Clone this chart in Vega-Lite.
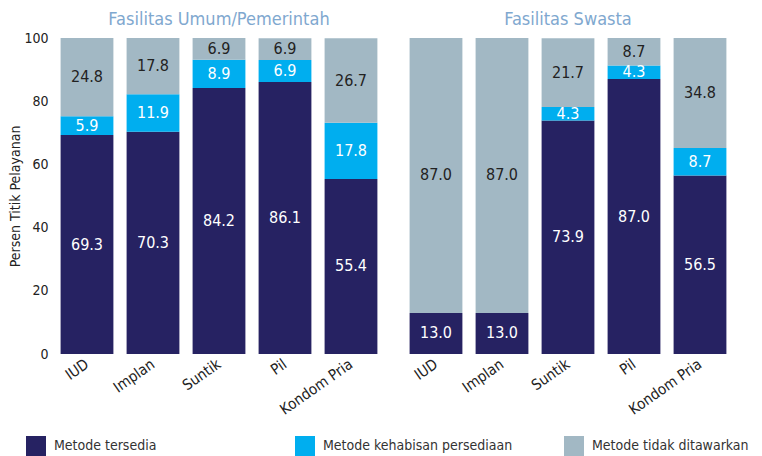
{
  "$schema": "https://vega.github.io/schema/vega-lite/v6.json",
  "background": "white",
  "padding": {"left": 8, "top": 11, "right": 0, "bottom": 0},
  "data": {"values": [
    {"fac": "Fasilitas Umum/Pemerintah", "method": "IUD", "status": "Metode tersedia", "o": 1, "value": 69.3},
    {"fac": "Fasilitas Umum/Pemerintah", "method": "IUD", "status": "Metode kehabisan persediaan", "o": 2, "value": 5.9},
    {"fac": "Fasilitas Umum/Pemerintah", "method": "IUD", "status": "Metode tidak ditawarkan", "o": 3, "value": 24.8},
    {"fac": "Fasilitas Umum/Pemerintah", "method": "Implan", "status": "Metode tersedia", "o": 1, "value": 70.3},
    {"fac": "Fasilitas Umum/Pemerintah", "method": "Implan", "status": "Metode kehabisan persediaan", "o": 2, "value": 11.9},
    {"fac": "Fasilitas Umum/Pemerintah", "method": "Implan", "status": "Metode tidak ditawarkan", "o": 3, "value": 17.8},
    {"fac": "Fasilitas Umum/Pemerintah", "method": "Suntik", "status": "Metode tersedia", "o": 1, "value": 84.2},
    {"fac": "Fasilitas Umum/Pemerintah", "method": "Suntik", "status": "Metode kehabisan persediaan", "o": 2, "value": 8.9},
    {"fac": "Fasilitas Umum/Pemerintah", "method": "Suntik", "status": "Metode tidak ditawarkan", "o": 3, "value": 6.9},
    {"fac": "Fasilitas Umum/Pemerintah", "method": "Pil", "status": "Metode tersedia", "o": 1, "value": 86.1},
    {"fac": "Fasilitas Umum/Pemerintah", "method": "Pil", "status": "Metode kehabisan persediaan", "o": 2, "value": 6.9},
    {"fac": "Fasilitas Umum/Pemerintah", "method": "Pil", "status": "Metode tidak ditawarkan", "o": 3, "value": 6.9},
    {"fac": "Fasilitas Umum/Pemerintah", "method": "Kondom Pria", "status": "Metode tersedia", "o": 1, "value": 55.4},
    {"fac": "Fasilitas Umum/Pemerintah", "method": "Kondom Pria", "status": "Metode kehabisan persediaan", "o": 2, "value": 17.8},
    {"fac": "Fasilitas Umum/Pemerintah", "method": "Kondom Pria", "status": "Metode tidak ditawarkan", "o": 3, "value": 26.7},
    {"fac": "Fasilitas Swasta", "method": "IUD", "status": "Metode tersedia", "o": 1, "value": 13.0},
    {"fac": "Fasilitas Swasta", "method": "IUD", "status": "Metode tidak ditawarkan", "o": 3, "value": 87.0},
    {"fac": "Fasilitas Swasta", "method": "Implan", "status": "Metode tersedia", "o": 1, "value": 13.0},
    {"fac": "Fasilitas Swasta", "method": "Implan", "status": "Metode tidak ditawarkan", "o": 3, "value": 87.0},
    {"fac": "Fasilitas Swasta", "method": "Suntik", "status": "Metode tersedia", "o": 1, "value": 73.9},
    {"fac": "Fasilitas Swasta", "method": "Suntik", "status": "Metode kehabisan persediaan", "o": 2, "value": 4.3},
    {"fac": "Fasilitas Swasta", "method": "Suntik", "status": "Metode tidak ditawarkan", "o": 3, "value": 21.7},
    {"fac": "Fasilitas Swasta", "method": "Pil", "status": "Metode tersedia", "o": 1, "value": 87.0},
    {"fac": "Fasilitas Swasta", "method": "Pil", "status": "Metode kehabisan persediaan", "o": 2, "value": 4.3},
    {"fac": "Fasilitas Swasta", "method": "Pil", "status": "Metode tidak ditawarkan", "o": 3, "value": 8.7},
    {"fac": "Fasilitas Swasta", "method": "Kondom Pria", "status": "Metode tersedia", "o": 1, "value": 56.5},
    {"fac": "Fasilitas Swasta", "method": "Kondom Pria", "status": "Metode kehabisan persediaan", "o": 2, "value": 8.7},
    {"fac": "Fasilitas Swasta", "method": "Kondom Pria", "status": "Metode tidak ditawarkan", "o": 3, "value": 34.8}
  ]},
  "facet": {
    "column": {
      "field": "fac", "type": "nominal",
      "sort": ["Fasilitas Umum/Pemerintah", "Fasilitas Swasta"],
      "header": {"title": null, "labelFontSize": 18, "labelColor": "#7fa8cf", "labelPadding": 8, "labelFont": "DejaVu Sans Condensed"}
    }
  },
  "spacing": 19,
  "spec": {
    "width": 330,
    "height": 316,
    "encoding": {
      "x": {"field": "method", "type": "nominal", "sort": ["IUD", "Implan", "Suntik", "Pil", "Kondom Pria"],
        "scale": {"paddingInner": 0.2, "paddingOuter": 0.1},
        "axis": {"title": null, "labelAngle": -35, "labelAlign": "right", "labelBaseline": "middle", "labelFontSize": 15, "labelColor": "#222", "labelPadding": 8, "ticks": false, "domain": false}},
      "y": {"field": "value", "type": "quantitative", "stack": "zero",
        "scale": {"domain": [0, 100], "nice": false},
        "axis": {"title": "Persen Titik Pelayanan", "values": [0, 20, 40, 60, 80, 100], "grid": false, "ticks": false, "domain": false, "labelFontSize": 14, "labelColor": "#222", "labelPadding": 6, "titleFontSize": 14, "titleFontWeight": "normal", "titleColor": "#222", "titlePadding": 1}},
      "order": {"field": "o", "type": "quantitative"}
    },
    "layer": [
      {"mark": {"type": "bar"},
        "encoding": {"color": {"field": "status", "type": "nominal",
          "sort": ["Metode tersedia", "Metode kehabisan persediaan", "Metode tidak ditawarkan"],
          "scale": {"domain": ["Metode tersedia", "Metode kehabisan persediaan", "Metode tidak ditawarkan"], "range": ["#262262", "#00aeef", "#a2b8c4"]},
          "legend": {"title": null, "orient": "none", "legendX": -28, "legendY": 398, "direction": "horizontal", "symbolType": "square", "symbolSize": 400, "symbolStrokeWidth": 0, "labelFontSize": 14, "labelColor": "#333", "labelLimit": 400, "gridAlign": "all", "columnPadding": 51, "labelOffset": 8, "symbolOpacity": 1}}}},
      {"mark": {"type": "text", "fontSize": 16, "baseline": "middle"},
        "encoding": {
          "y": {"field": "value", "type": "quantitative", "stack": "zero", "bandPosition": 0.5},
          "text": {"field": "value", "type": "quantitative", "format": ".1f"},
          "color": {"condition": {"test": "datum.status === 'Metode tidak ditawarkan'", "value": "#222"}, "value": "white"}
        }}
    ]
  },
  "config": {
    "font": "DejaVu Sans Condensed",
    "view": {"stroke": null},
    "legend": {"labelFont": "DejaVu Sans Condensed"}
  }
}
